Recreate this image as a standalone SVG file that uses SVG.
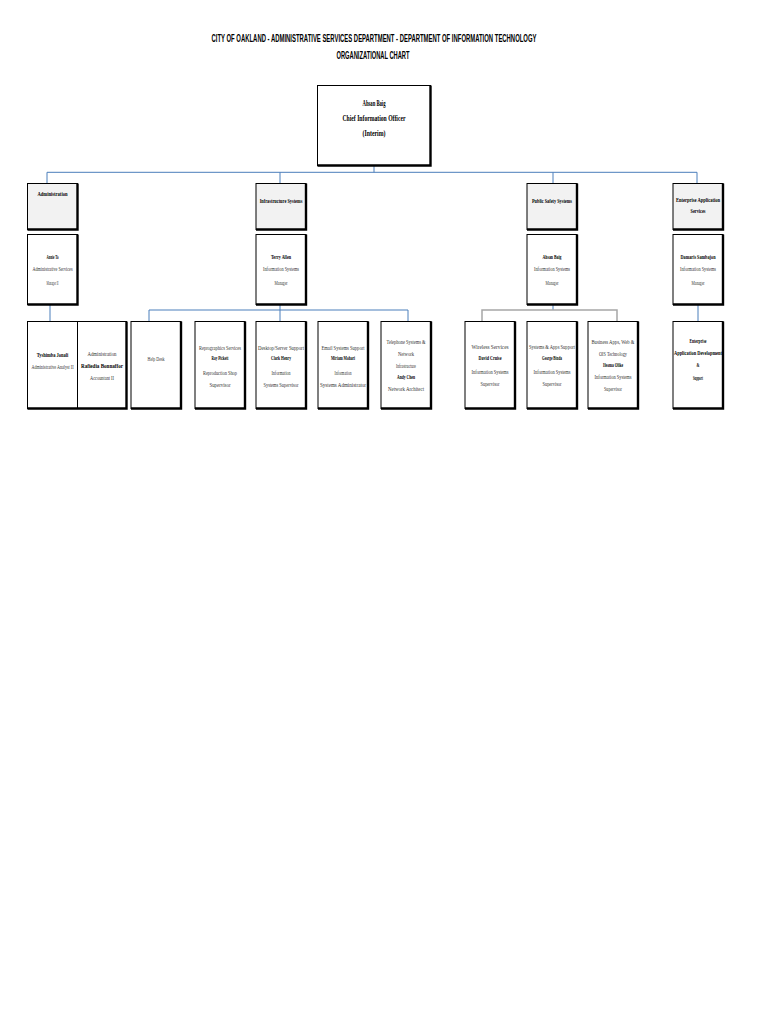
<svg xmlns="http://www.w3.org/2000/svg" width="768" height="1024" viewBox="0 0 768 1024">
<style>
.box{fill:#fff;stroke:#000;stroke-width:1}
.cat{fill:#f2f2f2;stroke:#000;stroke-width:1}
.sh{fill:none;stroke:#000;stroke-width:2.4}
.t{font-family:"Liberation Serif","Times New Roman",serif;font-size:6px;fill:#333;text-anchor:middle}
.b{font-weight:bold;fill:#000}
.big{font-size:8px}
.ttl{font-family:"Liberation Sans",Arial,sans-serif;font-weight:bold;font-size:10px;fill:#000;text-anchor:middle}
.c{fill:none;stroke:#4a7ebb;stroke-width:1}
.cg{fill:none;stroke:#a6a6a6;stroke-width:1.5}
</style>
<rect width="768" height="1024" fill="#fff"/>
<g id="title">
<text class="ttl" x="374" y="41.7" textLength="325" lengthAdjust="spacingAndGlyphs">CITY OF OAKLAND - ADMINISTRATIVE SERVICES DEPARTMENT - DEPARTMENT OF INFORMATION TECHNOLOGY</text>
<text class="ttl" x="373" y="59" textLength="73" lengthAdjust="spacingAndGlyphs">ORGANIZATIONAL CHART</text>
</g>
<g id="connectors">
<path class="c" d="M374,166V172.3M47,183V172.3H697V183M280,172.3V183M553,172.3V183"/>
<path class="c" d="M50,304.5V321M280,304.5V321M149,321V310H408V321M553,304.5V310M698,304.5V321"/>
<path class="cg" d="M482,321V310H617V321"/>
</g>
<g id="cio">
<rect class="box" x="317.5" y="85.5" width="113" height="80"/>
<path class="sh" d="M430.5,85.5V165.5H317.5"/>
<text class="t b big" x="374" y="105.5" textLength="23" lengthAdjust="spacingAndGlyphs">Ahsan Baig</text>
<text class="t b big" x="374" y="120.5" textLength="63" lengthAdjust="spacingAndGlyphs">Chief Information Officer</text>
<text class="t b big" x="374" y="136" textLength="23" lengthAdjust="spacingAndGlyphs">(Interim)</text>
</g>
<g id="cat-admin">
<rect class="cat" x="27.5" y="183.5" width="50" height="46"/>
<path class="sh" d="M77.5,183.5V229.5H27.5"/>
<text class="t b" x="52.5" y="196" textLength="30" lengthAdjust="spacingAndGlyphs">Administration</text>
</g>
<g id="cat-infra">
<rect class="cat" x="256" y="183.5" width="50" height="46"/>
<path class="sh" d="M306,183.5V229.5H256"/>
<text class="t b" x="281" y="203" textLength="42.7" lengthAdjust="spacingAndGlyphs">Infrastructure Systems</text>
</g>
<g id="cat-public">
<rect class="cat" x="527" y="183.5" width="50" height="46"/>
<path class="sh" d="M577,183.5V229.5H527"/>
<text class="t b" x="552" y="203" textLength="40" lengthAdjust="spacingAndGlyphs">Public Safety Systems</text>
</g>
<g id="cat-enterprise">
<rect class="cat" x="673" y="183.5" width="50" height="46"/>
<path class="sh" d="M723,183.5V229.5H673"/>
<text class="t b" x="698" y="202" textLength="44" lengthAdjust="spacingAndGlyphs">Enterprise Application</text>
<text class="t b" x="698" y="213" textLength="15" lengthAdjust="spacingAndGlyphs">Services</text>
</g>
<g id="annie">
<rect class="box" x="27.5" y="234.5" width="50" height="70"/>
<path class="sh" d="M77.5,234.5V304.5H27.5"/>
<text class="t b" x="52.5" y="259" textLength="12" lengthAdjust="spacingAndGlyphs">Annie To</text>
<text class="t" x="52.5" y="270.5" textLength="40" lengthAdjust="spacingAndGlyphs">Administrative Services</text>
<text class="t" x="52.5" y="285" textLength="12" lengthAdjust="spacingAndGlyphs">Manager II</text>
</g>
<g id="terry">
<rect class="box" x="256" y="234.5" width="50" height="70"/>
<path class="sh" d="M306,234.5V304.5H256"/>
<text class="t b" x="281" y="259" textLength="20" lengthAdjust="spacingAndGlyphs">Terry Allen</text>
<text class="t" x="281" y="270.5" textLength="36" lengthAdjust="spacingAndGlyphs">Information Systems</text>
<text class="t" x="281" y="285" textLength="13" lengthAdjust="spacingAndGlyphs">Manager</text>
</g>
<g id="ahsan">
<rect class="box" x="527" y="234.5" width="50" height="70"/>
<path class="sh" d="M577,234.5V304.5H527"/>
<text class="t b" x="552" y="259" textLength="19" lengthAdjust="spacingAndGlyphs">Ahsan Baig</text>
<text class="t" x="552" y="270.5" textLength="36" lengthAdjust="spacingAndGlyphs">Information Systems</text>
<text class="t" x="552" y="285" textLength="13" lengthAdjust="spacingAndGlyphs">Manager</text>
</g>
<g id="damaris">
<rect class="box" x="673" y="234.5" width="50" height="70"/>
<path class="sh" d="M723,234.5V304.5H673"/>
<text class="t b" x="698" y="259" textLength="35" lengthAdjust="spacingAndGlyphs">Damaris Sambajon</text>
<text class="t" x="698" y="270.5" textLength="36" lengthAdjust="spacingAndGlyphs">Information Systems</text>
<text class="t" x="698" y="285" textLength="13" lengthAdjust="spacingAndGlyphs">Manager</text>
</g>
<g id="admin-staff">
<rect class="box" x="27.5" y="321.5" width="99" height="87"/>
<path class="sh" d="M126.5,321.5V408.5H27.5"/>
<line x1="77.5" y1="321.5" x2="77.5" y2="408.5" stroke="#000" stroke-width="1"/>
<text class="t b" x="52.5" y="357" textLength="31.7" lengthAdjust="spacingAndGlyphs">Tyshimba Jonali</text>
<text class="t" transform="translate(52.5,369) scale(0.7,1)" textLength="60" lengthAdjust="spacingAndGlyphs">Administrative Analyst II</text>
<text class="t" x="102" y="356" textLength="29" lengthAdjust="spacingAndGlyphs">Administration</text>
<text class="t b" transform="translate(102,368) scale(0.7,1)" textLength="60" lengthAdjust="spacingAndGlyphs">Rafiedia Bonnaffor</text>
<text class="t" x="102" y="380" textLength="24" lengthAdjust="spacingAndGlyphs">Accountant II</text>
</g>
<g id="helpdesk">
<rect class="box" x="131" y="321.5" width="50" height="87"/>
<path class="sh" d="M181,321.5V408.5H131"/>
<text class="t" x="156" y="361" textLength="17" lengthAdjust="spacingAndGlyphs">Help Desk</text>
</g>
<g id="repro">
<rect class="box" x="195" y="321.5" width="50" height="87"/>
<path class="sh" d="M245,321.5V408.5H195"/>
<text class="t" x="220" y="350" textLength="42" lengthAdjust="spacingAndGlyphs">Reprographics Services</text>
<text class="t b" x="220" y="360" textLength="17" lengthAdjust="spacingAndGlyphs">Ray Pickett</text>
<text class="t" x="220" y="375" textLength="34" lengthAdjust="spacingAndGlyphs">Reproduction Shop</text>
<text class="t" x="220" y="387" textLength="21" lengthAdjust="spacingAndGlyphs">Supervisor</text>
</g>
<g id="desktop">
<rect class="box" x="256" y="321.5" width="50" height="87"/>
<path class="sh" d="M306,321.5V408.5H256"/>
<text class="t" x="281" y="350" textLength="46" lengthAdjust="spacingAndGlyphs">Desktop/Server Support</text>
<text class="t b" x="281" y="360" textLength="20" lengthAdjust="spacingAndGlyphs">Clark Henry</text>
<text class="t" x="281" y="375" textLength="19" lengthAdjust="spacingAndGlyphs">Information</text>
<text class="t" x="281" y="387" textLength="35" lengthAdjust="spacingAndGlyphs">Systems Supervisor</text>
</g>
<g id="email">
<rect class="box" x="318" y="321.5" width="50" height="87"/>
<path class="sh" d="M368,321.5V408.5H318"/>
<text class="t" x="343" y="350" textLength="43" lengthAdjust="spacingAndGlyphs">Email Systems Support</text>
<text class="t b" x="343" y="360" textLength="24" lengthAdjust="spacingAndGlyphs">Miriam Mohari</text>
<text class="t" x="343" y="375" textLength="17" lengthAdjust="spacingAndGlyphs">Information</text>
<text class="t" x="343" y="387" textLength="46" lengthAdjust="spacingAndGlyphs">Systems Administrator</text>
</g>
<g id="telephone">
<rect class="box" x="381" y="321.5" width="50" height="87"/>
<path class="sh" d="M431,321.5V408.5H381"/>
<text class="t" x="406" y="344" textLength="39" lengthAdjust="spacingAndGlyphs">Telephone Systems &amp;</text>
<text class="t" x="406" y="356" textLength="16" lengthAdjust="spacingAndGlyphs">Network</text>
<text class="t" x="406" y="368" textLength="20" lengthAdjust="spacingAndGlyphs">Infrastructure</text>
<text class="t b" x="406" y="379" textLength="18" lengthAdjust="spacingAndGlyphs">Andy Chen</text>
<text class="t" x="406" y="391" textLength="36" lengthAdjust="spacingAndGlyphs">Network Architect</text>
</g>
<g id="wireless">
<rect class="box" x="465" y="321.5" width="50" height="87"/>
<path class="sh" d="M515,321.5V408.5H465"/>
<text class="t" x="490" y="349" textLength="37" lengthAdjust="spacingAndGlyphs">Wireless Services</text>
<text class="t b" x="490" y="360" textLength="23" lengthAdjust="spacingAndGlyphs">David Cruise</text>
<text class="t" x="490" y="374" textLength="37" lengthAdjust="spacingAndGlyphs">Information Systems</text>
<text class="t" x="490" y="386" textLength="19" lengthAdjust="spacingAndGlyphs">Supervisor</text>
</g>
<g id="sysapps">
<rect class="box" x="527" y="321.5" width="50" height="87"/>
<path class="sh" d="M577,321.5V408.5H527"/>
<text class="t" x="552" y="349" textLength="46" lengthAdjust="spacingAndGlyphs">Systems &amp; Apps Support</text>
<text class="t b" x="552" y="360" textLength="20" lengthAdjust="spacingAndGlyphs">George Binda</text>
<text class="t" x="552" y="374" textLength="37" lengthAdjust="spacingAndGlyphs">Information Systems</text>
<text class="t" x="552" y="386" textLength="19" lengthAdjust="spacingAndGlyphs">Supervisor</text>
</g>
<g id="bizapps">
<rect class="box" x="588" y="321.5" width="50" height="87"/>
<path class="sh" d="M638,321.5V408.5H588"/>
<text class="t" x="613" y="344" textLength="43" lengthAdjust="spacingAndGlyphs">Business Apps, Web &amp;</text>
<text class="t" x="613" y="356" textLength="28" lengthAdjust="spacingAndGlyphs">OIS Technology</text>
<text class="t b" x="613" y="367" textLength="20" lengthAdjust="spacingAndGlyphs">Ifeoma Olike</text>
<text class="t" x="613" y="379" textLength="37" lengthAdjust="spacingAndGlyphs">Information Systems</text>
<text class="t" x="613" y="391" textLength="18" lengthAdjust="spacingAndGlyphs">Supervisor</text>
</g>
<g id="entdev">
<rect class="box" x="673" y="321.5" width="50" height="87"/>
<path class="sh" d="M723,321.5V408.5H673"/>
<text class="t b" x="698" y="343" textLength="17" lengthAdjust="spacingAndGlyphs">Enterprise</text>
<text class="t b" x="698" y="355" textLength="48" lengthAdjust="spacingAndGlyphs">Application Development</text>
<text class="t b" x="698" y="366.5" textLength="3" lengthAdjust="spacingAndGlyphs">&amp;</text>
<text class="t b" x="698" y="380" textLength="10" lengthAdjust="spacingAndGlyphs">Support</text>
</g>
</svg>
